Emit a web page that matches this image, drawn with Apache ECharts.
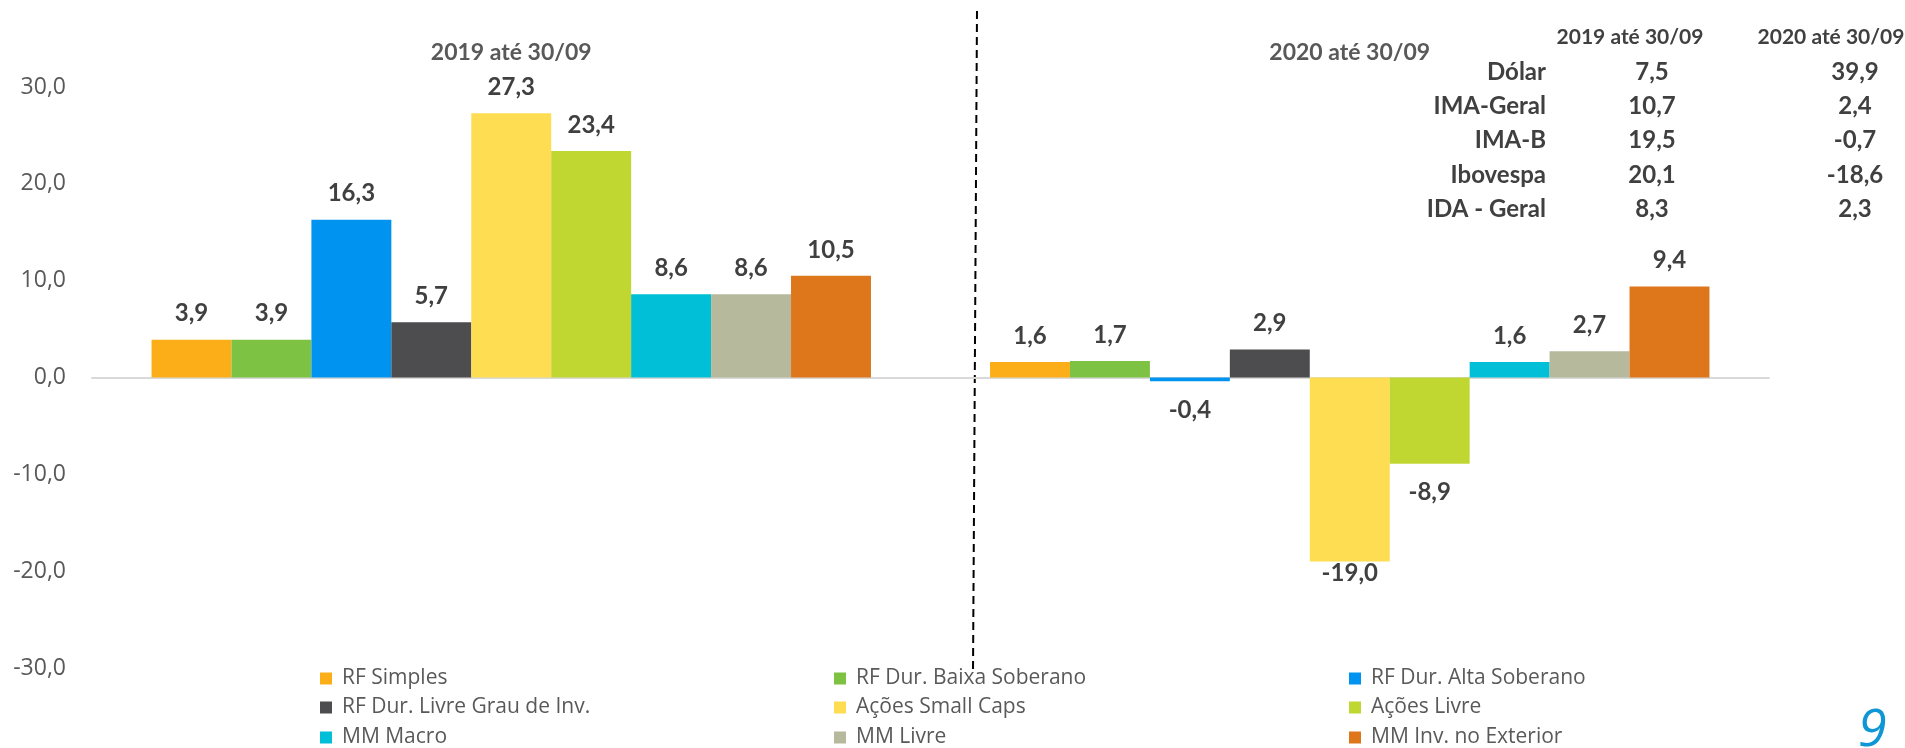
<!DOCTYPE html>
<html>
<head>
<meta charset="utf-8">
<script src="https://cdn.jsdelivr.net/npm/echarts@6/dist/echarts.min.js"></script>
<style>
  html, body { margin: 0; padding: 0; background: #fff; }
  #fundos { width: 1905px; height: 748px; }
</style>
</head>
<body>
<div id="fundos"></div>
<script>
// periodos (eixo x)
const periodos = ['2019 até 30/09', '2020 até 30/09'];

// classes de fundos
const classes = [
  'RF Simples', 'RF Dur. Baixa Soberano', 'RF Dur. Alta Soberano',
  'RF Dur. Livre Grau de Inv.', 'Ações Small Caps', 'Ações Livre',
  'MM Macro', 'MM Livre', 'MM Inv. no Exterior',
];
const cores = ['#FBAE17', '#7DC242', '#0094F0', '#4D4D4F', '#FEDD52', '#C0D732', '#00BFD6', '#B6B99C', '#DE761C'];

// rentabilidade (%) por classe
const ret2019 = [3.9, 3.9, 16.3, 5.7, 27.3, 23.4, 8.6, 8.6, 10.5];
const ret2020 = [1.6, 1.7, -0.4, 2.9, -19.0, -8.9, 1.6, 2.7, 9.4];

// ticks do eixo y
const yMin = -30;
const yMax = 30;
const yStep = 10;

// tabela de indices
const indices = ['Dólar', 'IMA-Geral', 'IMA-B', 'Ibovespa', 'IDA - Geral'];
const idx2019 = [7.5, 10.7, 19.5, 20.1, 8.3];
const idx2020 = [39.9, 2.4, -0.7, -18.6, 2.3];

const fmt = (v) => v.toFixed(1).replace('.', ',');
const boldFont = 'Lato';
const regFont = 'Open Sans';

const myChart = echarts.init(document.getElementById('fundos'));

const series = classes.map((nome, i) => ({
  name: nome,
  type: 'bar',
  barGap: '0%',
  barCategoryGap: '14.2%',
  itemStyle: { color: cores[i] },
  label: {
    show: true,
    position: 'top',
    distance: 14,
    fontFamily: boldFont,
    fontWeight: 'bold',
    fontSize: 24,
    color: '#404040',
    formatter: (p) => fmt(p.value),
  },
  data: [ret2019[i], ret2020[i]].map((v) => (v < 0
    ? { value: v, label: { position: 'bottom', distance: v < -15 ? 0 : 17 } }
    : v)),
}));

// legenda em grade 3x3, um bloco por item
const colX = [320, 834, 1349];
const linhaLeg = [668, 697, 727];
const legendas = classes.map((nome, k) => ({
  left: colX[k % 3],
  top: linhaLeg[Math.floor(k / 3)],
  padding: 0,
  itemWidth: 12,
  itemHeight: 12,
  icon: 'rect',
  selectedMode: false,
  textStyle: {
    fontFamily: regFont,
    fontSize: 21,
    lineHeight: 21,
    color: '#595959',
    padding: [0, 0, 0, 5],
  },
  data: [nome],
}));

// tabela a direita
const tabela = [];
const linhaY = (k) => 72 + k * 34.3;
const txt = (x, y, text, align, size) => ({
  type: 'text',
  x,
  y,
  style: { text, align, verticalAlign: 'middle', font: `bold ${size}px ${boldFont}`, fill: '#404040' },
});
tabela.push(txt(1630, 37, periodos[0], 'center', 21), txt(1831, 37, periodos[1], 'center', 21));
indices.forEach((nome, k) => {
  tabela.push(
    txt(1546, linhaY(k), nome, 'right', 24),
    txt(1652, linhaY(k), fmt(idx2019[k]), 'center', 24),
    txt(1855, linhaY(k), fmt(idx2020[k]), 'center', 24),
  );
});

const option = {
  animation: false,
  grid: { left: 92, right: 136, top: 87, bottom: 80, containLabel: false },
  legend: legendas,
  xAxis: [
    {
      type: 'category',
      data: periodos,
      axisLine: { onZero: true, lineStyle: { color: '#D9D9D9', width: 2 } },
      axisTick: { show: false },
      axisLabel: { show: false },
    },
    {
      type: 'category',
      position: 'top',
      data: periodos,
      axisLine: { show: false },
      axisTick: { show: false },
      axisLabel: {
        margin: 23,
        fontFamily: boldFont,
        fontWeight: 'bold',
        fontSize: 23,
        color: '#595959',
      },
    },
  ],
  yAxis: {
    type: 'value',
    min: yMin,
    max: yMax,
    interval: yStep,
    splitLine: { show: false },
    axisLine: { show: false },
    axisTick: { show: false },
    axisLabel: {
      margin: 26,
      fontFamily: regFont,
      fontSize: 23,
      color: '#595959',
      formatter: (v) => fmt(v),
    },
  },
  graphic: [
    // separador tracejado
    {
      type: 'line',
      shape: { x1: 977, y1: 11, x2: 973, y2: 673 },
      style: { stroke: '#000', lineWidth: 2, lineDash: [8, 5] },
    },
    ...tabela,
    // numero da pagina
    {
      type: 'text',
      x: 1858,
      y: 731,
      style: { text: '9', verticalAlign: 'middle', font: `italic 52px ${regFont}`, fill: '#0F96D4' },
    },
  ],
  series,
};

myChart.setOption(option);
</script>
</body>
</html>
